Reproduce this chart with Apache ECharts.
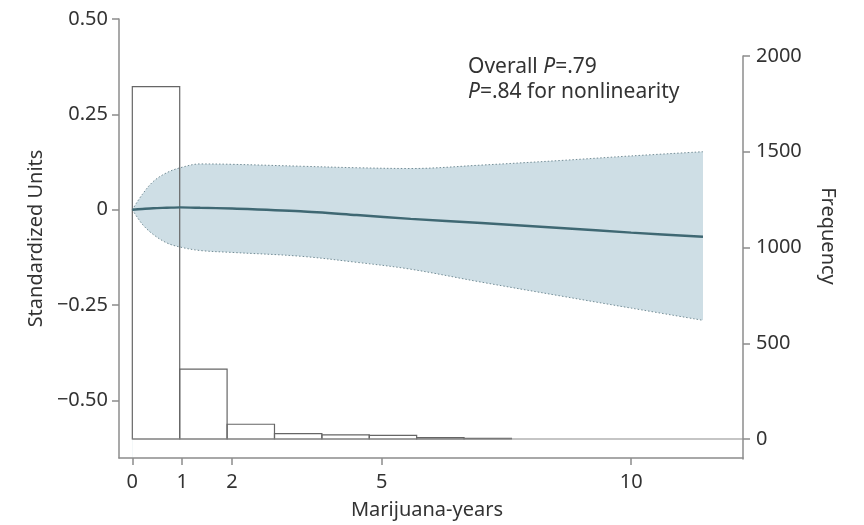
<!DOCTYPE html>
<html>
<head>
<meta charset="utf-8">
<script src="https://cdn.jsdelivr.net/npm/echarts@6/dist/echarts.min.js"></script>
<style>html,body{margin:0;padding:0;background:#fff;}#c{width:864px;height:525px;}</style>
</head>
<body>
<div id="c"></div>
<script>
// ---- data ----
const curveX   = [0, 0.2, 0.42, 0.69, 0.96, 1.36, 2, 3.37, 4.5, 5.58, 7, 8.58, 10, 11.44];
const fitY     = [0, 0.002, 0.004, 0.005, 0.006, 0.005, 0.003, -0.004, -0.014, -0.024, -0.035, -0.048, -0.060, -0.071];
const upperY   = [0, 0.040, 0.074, 0.097, 0.110, 0.120, 0.119, 0.114, 0.110, 0.108, 0.117, 0.129, 0.141, 0.152];
const lowerY   = [0, -0.038, -0.065, -0.087, -0.098, -0.107, -0.112, -0.122, -0.138, -0.156, -0.190, -0.226, -0.258, -0.290];
const binEdges = [0, 0.95, 1.9, 2.85, 3.8, 4.75, 5.7, 6.65, 7.6];
const binCounts = [1840, 365, 77, 28, 22, 19, 7, 4];
const xTickValues = [0, 1, 2, 5, 10];
const yTickValues = [-0.5, -0.25, 0, 0.25, 0.5];
const yTickLabels = ['\u22120.50', '\u22120.25', '0', '0.25', '0.50'];
const freqTickValues = [0, 500, 1000, 1500, 2000];

const X_MIN = -0.267, X_MAX = 12.242;
const FONT = 'Noto Sans';
const TXT = '#333333';
const AX = '#8c8c8c';

const chart = echarts.init(document.getElementById('c'), null, {renderer: 'canvas'});

const axisLine = {show: true, onZero: false, lineStyle: {color: AX, width: 1.5}};
const axisTick = (vals) => ({show: true, length: 7, lineStyle: {color: AX, width: 1.5}, customValues: vals});

const upperData = curveX.map((x, i) => [x, upperY[i]]);
const lowerData = curveX.map((x, i) => [x, lowerY[i]]);
const fitData = curveX.map((x, i) => [x, fitY[i]]);
const histData = binCounts.map((c, i) => [binEdges[i], binEdges[i + 1], c]);

chart.setOption({
  animation: false,
  backgroundColor: '#ffffff',
  textStyle: {fontFamily: FONT, color: TXT},
  grid: [
    {left: 119, right: 121, top: 19, bottom: 66},
    {left: 119, right: 121, top: 56, bottom: 66}
  ],
  xAxis: [
    {
      type: 'value', gridIndex: 0, min: X_MIN, max: X_MAX, z: 6,
      axisLine: axisLine, axisTick: axisTick(xTickValues),
      splitLine: {show: false},
      axisLabel: {customValues: xTickValues, fontSize: 20, fontFamily: FONT, color: TXT, margin: 14},
      name: 'Marijuana-years', nameLocation: 'middle', nameGap: 42,
      nameTextStyle: {fontSize: 20, fontFamily: FONT, color: TXT, padding: [0, 8, 0, 0]}
    },
    {
      type: 'value', gridIndex: 1, min: X_MIN, max: X_MAX, show: false
    }
  ],
  yAxis: [
    {
      type: 'value', gridIndex: 0, position: 'left', min: -0.651, max: 0.5, z: 6,
      axisLine: axisLine, axisTick: axisTick(yTickValues),
      splitLine: {show: false},
      axisLabel: {
        customValues: yTickValues, fontSize: 20, fontFamily: FONT, color: TXT, margin: 11,
        formatter: (v) => {
          const k = yTickValues.indexOf(v);
          return k >= 0 ? yTickLabels[k] : '';
        }
      },
      name: 'Standardized Units', nameLocation: 'middle', nameGap: 68, nameRotate: 90,
      nameTextStyle: {fontSize: 20, fontFamily: FONT, color: TXT}
    },
    {
      type: 'value', gridIndex: 1, position: 'right', min: -104.4, max: 2000, z: 6,
      axisLine: axisLine, axisTick: axisTick(freqTickValues),
      splitLine: {show: false},
      axisLabel: {customValues: freqTickValues, fontSize: 20, fontFamily: FONT, color: TXT, margin: 13,
        formatter: (v) => String(v)}
    }
  ],
  graphic: [
    {
      type: 'text', left: 468, top: 55, z: 10,
      style: {
        text: 'Overall {i|P}=.79\n{i|P}=.84 for nonlinearity',
        font: '21px "Noto Sans"', fill: TXT, lineHeight: 25,
        rich: {i: {fontStyle: 'italic', fontSize: 21, fontFamily: FONT, lineHeight: 25, fill: TXT}}
      }
    },
    {
      type: 'text', x: 828, y: 236, rotation: -Math.PI / 2, z: 10,
      style: {text: 'Frequency', font: '20px "Noto Sans"', fill: TXT, align: 'center', verticalAlign: 'middle'}
    }
  ],
  series: [
    {
      type: 'line', name: 'upper', xAxisIndex: 0, yAxisIndex: 0,
      data: upperData, smooth: 0.35, symbol: 'none', z: 2,
      lineStyle: {color: '#738d96', width: 1, type: [1.5, 2]},
      areaStyle: {color: '#cedee5', opacity: 1, origin: 'start'}
    },
    {
      type: 'line', name: 'lower', xAxisIndex: 0, yAxisIndex: 0,
      data: lowerData, smooth: 0.35, symbol: 'none', z: 2,
      lineStyle: {color: '#738d96', width: 1, type: [1.5, 2]},
      areaStyle: {color: '#ffffff', opacity: 1, origin: 'start'}
    },
    {
      type: 'custom', name: 'hist', xAxisIndex: 1, yAxisIndex: 1, z: 3,
      data: histData,
      encode: {x: [0, 1], y: 2},
      renderItem: function (params, api) {
        const p0 = api.coord([api.value(0), api.value(2)]);
        const p1 = api.coord([api.value(1), 0]);
        return {
          type: 'rect',
          shape: {x: p0[0], y: p0[1], width: p1[0] - p0[0], height: p1[1] - p0[1]},
          style: {fill: 'none', stroke: '#666666', lineWidth: 1.2}
        };
      }
    },
    {
      type: 'line', name: 'baseline', xAxisIndex: 1, yAxisIndex: 1, z: 3,
      data: [[binEdges[0], 0], [X_MAX, 0]], symbol: 'none',
      lineStyle: {color: '#8c8c8c', width: 1.2}
    },
    {
      type: 'line', name: 'fit', xAxisIndex: 0, yAxisIndex: 0,
      data: fitData, smooth: 0.3, symbol: 'none', z: 4,
      lineStyle: {color: '#3f6873', width: 2.4}
    }
  ]
});
</script>
</body>
</html>
